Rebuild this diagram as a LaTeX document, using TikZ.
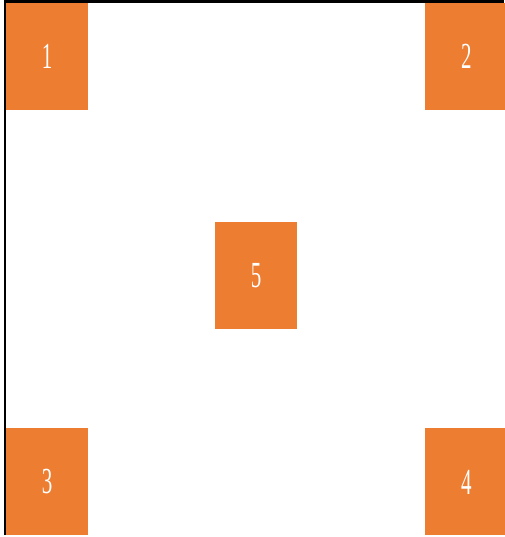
\documentclass[tikz,border=0pt]{standalone}
\usepackage{fontspec}
\setmainfont{Liberation Serif}
\usepackage{xcolor}
\usepackage{graphicx}
\usepackage{tikz}
\usetikzlibrary{positioning}

\definecolor{boxorange}{HTML}{ED7D31}
\tikzset{
    numbox/.style={rectangle, fill=boxorange, text=white, inner sep=0pt,
        minimum width=82pt, minimum height=107pt, font=\fontsize{21}{21}\selectfont}
}
\newcommand{\tallnum}[1]{\scalebox{1}[1.75]{#1}}

\begin{document}
\begin{tikzpicture}[x=1pt, y=-1pt]
    \useasboundingbox (0,0) rectangle (504,537);
    % frame lines
    \draw[line width=3pt] (5,1.5) -- (504,1.5);
    \draw[line width=2pt] (5,0) -- (5,535);

    \node (b1) [numbox] at (47,56.5) {\tallnum{1}};
    \node (b2) [numbox, right=337pt of b1] {\tallnum{2}};
    \node (b3) [numbox, below=318pt of b1] {\tallnum{3}};
    \node (b4) [numbox, below=318pt of b2] {\tallnum{4}};
    \node (b5) [numbox] at (256,275.5) {\tallnum{5}};
\end{tikzpicture}
\end{document}
